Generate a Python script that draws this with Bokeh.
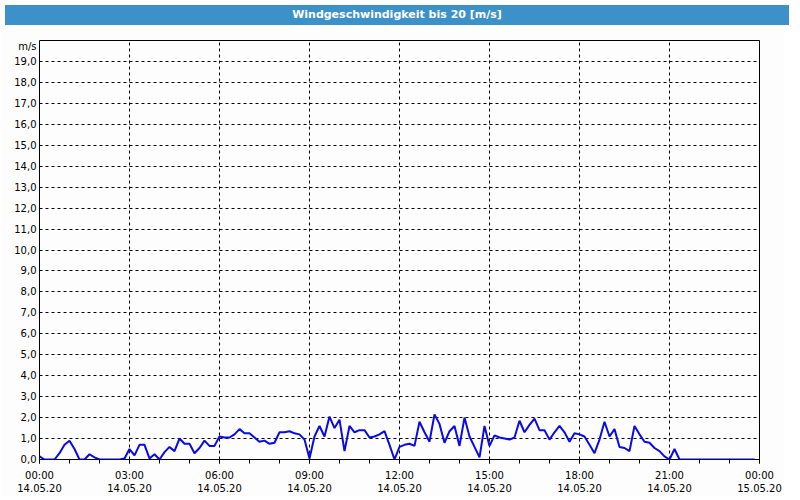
from bokeh.plotting import figure
from bokeh.models import Div, FixedTicker, Range1d
from bokeh.layouts import column
from bokeh.embed import file_html
from bokeh.resources import INLINE
import numpy as np

title_text = "Windgeschwindigkeit bis 20 [m/s]"
unit_label = "m/s"

# 10-minute wind speed values [m/s], 14.05.20 00:00 .. 23:50
wind_00_08 = [0.15, 0.0, 0.0, 0.0, 0.3, 0.7, 0.9, 0.5, 0.0, 0.0, 0.25, 0.1,
              0.0, 0.0, 0.0, 0.0, 0.0, 0.05, 0.5, 0.2, 0.7, 0.7, 0.05, 0.25,
              0.0, 0.35, 0.6, 0.4, 1.0, 0.75, 0.75, 0.3, 0.55, 0.9, 0.65, 0.65,
              1.1, 1.05, 1.05, 1.2, 1.45, 1.25, 1.25, 1.05, 0.85, 0.9, 0.75, 0.8]
wind_08_16 = [1.3, 1.3, 1.35, 1.25, 1.2, 0.95, 0.05, 1.1, 1.6, 1.1, 2.05, 1.5,
              1.9, 0.4, 1.6, 1.3, 1.4, 1.4, 1.05, 1.1, 1.2, 1.35, 0.7, 0.0,
              0.6, 0.7, 0.75, 0.65, 1.8, 1.3, 0.85, 2.15, 1.7, 0.8, 1.35, 1.6,
              0.65, 2.0, 1.1, 0.6, 0.1, 1.6, 0.65, 1.15, 1.05, 1.0, 0.95, 1.05]
wind_16_24 = [1.85, 1.3, 1.65, 1.95, 1.4, 1.4, 0.95, 1.3, 1.6, 1.3, 0.85, 1.25,
              1.2, 1.1, 0.7, 0.3, 0.95, 1.8, 1.1, 1.45, 0.6, 0.55, 0.4, 1.6,
              1.2, 0.85, 0.8, 0.55, 0.4, 0.15, 0.0, 0.5, 0.0, 0.0, 0.0, 0.0,
              0.0, 0.0, 0.0, 0.0, 0.0, 0.0, 0.0, 0.0, 0.0, 0.0, 0.0, 0.0]
wind = wind_00_08 + wind_08_16 + wind_16_24

# time of each sample in hours since 14.05.20 00:00 (10-minute interval)
hours = (np.arange(len(wind)) * 10 / 60.0).tolist()

x_ticks = [0, 3, 6, 9, 12, 15, 18, 21, 24]
x_tick_labels = ["00:00\n14.05.20", "03:00\n14.05.20", "06:00\n14.05.20",
                 "09:00\n14.05.20", "12:00\n14.05.20", "15:00\n14.05.20",
                 "18:00\n14.05.20", "21:00\n14.05.20", "00:00\n15.05.20"]
x_minor = list(range(0, 25))
y_grid = list(range(0, 21))
y_ticks = list(range(0, 20)) + [19.7]
y_tick_labels = [f"{v},0" for v in range(0, 20)] + [unit_label]

FONT = "DejaVu Sans"
BLUE = "#3c91c8"
BG = "#fcfdfc"

header = Div(text=title_text, width=784, height=20,
             styles={"background-color": BLUE, "color": "white",
                     "font-weight": "bold", "text-align": "center",
                     "font-family": FONT, "font-size": "11px",
                     "line-height": "20px"})

p = figure(frame_width=720, frame_height=419, output_backend="svg",
           toolbar_location=None,
           x_range=Range1d(0, 24), y_range=Range1d(0, 20),
           min_border_left=39, min_border_right=25, min_border_top=10,
           min_border_bottom=35)
p.background_fill_color = BG
p.border_fill_color = BG
p.outline_line_color = "black"
p.outline_line_width = 1

p.line(hours, wind, line_color="#0a0ae6", line_width=2)

xa = p.xaxis[0]
xa.ticker = FixedTicker(ticks=x_ticks, minor_ticks=x_minor)
xa.major_label_overrides = {t: l for t, l in zip(x_ticks, x_tick_labels)}
xa.axis_line_color = None
xa.major_tick_in = 0
xa.major_tick_out = 4
xa.minor_tick_in = 0
xa.minor_tick_out = 4
xa.major_tick_line_color = "black"
xa.minor_tick_line_color = "black"
xa.major_label_text_font = FONT
xa.major_label_text_font_size = "10px"
xa.major_label_text_color = "black"
xa.major_label_standoff = 6

ya = p.yaxis[0]
ya.ticker = FixedTicker(ticks=y_ticks)
ya.major_label_overrides = {t: l for t, l in zip(y_ticks, y_tick_labels)}
ya.axis_line_color = None
ya.major_tick_in = 0
ya.major_tick_out = 0
ya.minor_tick_line_color = None
ya.major_label_text_font = FONT
ya.major_label_text_font_size = "10px"
ya.major_label_text_color = "black"
ya.major_label_standoff = 3

for g in (p.xgrid[0], p.ygrid[0]):
    g.grid_line_color = "black"
    g.grid_line_dash = "3 3"
    g.grid_line_width = 1
p.xgrid[0].ticker = FixedTicker(ticks=x_ticks)
p.ygrid[0].ticker = FixedTicker(ticks=y_grid)

layout = column(header, p, spacing=0)
open("out.html", "w").write(file_html(layout, INLINE))
